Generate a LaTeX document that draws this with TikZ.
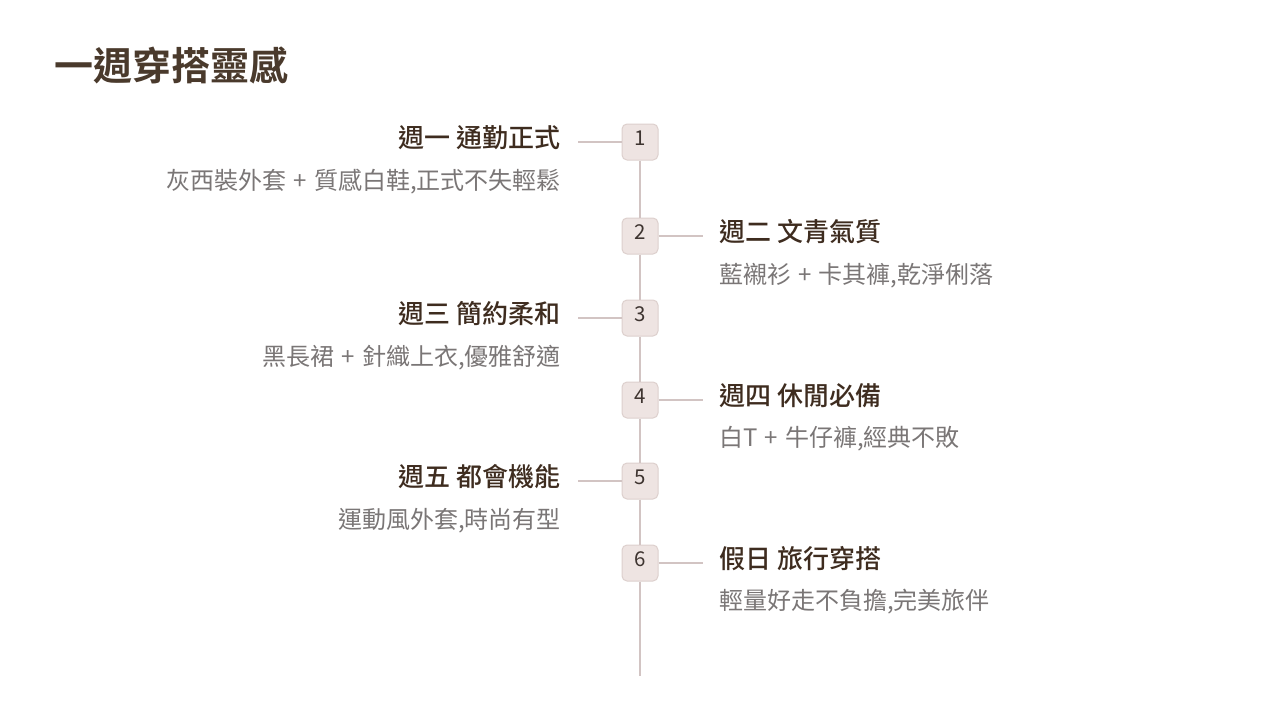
\documentclass[tikz,border=0pt]{standalone}
\usepackage{fontspec}
\setmainfont{Noto Sans CJK TC}
\newfontfamily\cjkb{Noto Sans CJK TC Bold}
\newfontfamily\cjkm{Noto Sans CJK TC Medium}
\definecolor{titlec}{HTML}{4A3A2C}
\definecolor{headc}{HTML}{3E2C1F}
\definecolor{descc}{HTML}{7A7676}
\definecolor{linec}{HTML}{D2C4C3}
\definecolor{boxfill}{HTML}{EEE4E2}
\definecolor{boxdraw}{HTML}{DDD0CD}
\definecolor{numc}{HTML}{3E3430}
\newcommand{\pl}{\hspace{0.3em}+\hspace{0.3em}}
\begin{document}
\begin{tikzpicture}[x=1pt,y=-1pt,
  stepbox/.style={draw=boxdraw,fill=boxfill,line width=1pt,rounded corners=5pt,minimum width=36pt,minimum height=36pt,inner sep=0pt},
  numtext/.style={text=numc,font=\fontsize{20.5}{24}\selectfont,inner sep=0pt},
  headtxt/.style={text=headc,font=\cjkm\fontsize{26}{30}\selectfont,inner sep=0pt},
  desctxt/.style={text=descc,font=\fontsize{24}{28}\selectfont,inner sep=0pt},
  spine/.style={draw=linec,line width=2pt},
  tick/.style={draw=linec,line width=2pt}]
\useasboundingbox[fill=white] (0,0) rectangle (1280,720);
\node[anchor=west,text=titlec,font=\cjkb\fontsize{39}{44}\selectfont,inner sep=0pt] (title) at (54,65) {一週穿搭靈感};
% boxes
\node[stepbox] (b1) at (640,142) {};
\node[stepbox] (b2) at (640,236) {};
\node[stepbox] (b3) at (640,318) {};
\node[stepbox] (b4) at (640,400) {};
\node[stepbox] (b5) at (640,481) {};
\node[stepbox] (b6) at (640,563) {};
\coordinate (end) at (640,676);
\draw[spine] (b1) -- (b2);
\draw[spine] (b2) -- (b3);
\draw[spine] (b3) -- (b4);
\draw[spine] (b4) -- (b5);
\draw[spine] (b5) -- (b6);
\draw[spine] (b6) -- (end);
\node[numtext] (n1) at (640,138) {1};
\node[numtext] (n2) at (640,232) {2};
\node[numtext] (n3) at (640,314) {3};
\node[numtext] (n4) at (640,396) {4};
\node[numtext] (n5) at (640,477) {5};
\node[numtext] (n6) at (640,559) {6};
% left items
\node[headtxt,anchor=east] (h1) at (561,138) {週一 通勤正式};
\node[desctxt,anchor=east] (d1) at (561,182) {灰西裝外套\pl 質感白鞋,正式不失輕鬆};
\node[headtxt,anchor=east] (h3) at (561,314) {週三 簡約柔和};
\node[desctxt,anchor=east] (d3) at (561,358) {黑長裙\pl 針織上衣,優雅舒適};
\node[headtxt,anchor=east] (h5) at (561,477) {週五 都會機能};
\node[desctxt,anchor=east] (d5) at (561,521) {運動風外套,時尚有型};
% right items
\node[headtxt,anchor=west] (h2) at (719,232) {週二 文青氣質};
\node[desctxt,anchor=west] (d2) at (719,276) {藍襯衫\pl 卡其褲,乾淨俐落};
\node[headtxt,anchor=west] (h4) at (719,396) {週四 休閒必備};
\node[desctxt,anchor=west] (d4) at (719,439) {白T\pl 牛仔褲,經典不敗};
\node[headtxt,anchor=west] (h6) at (719,559) {假日 旅行穿搭};
\node[desctxt,anchor=west] (d6) at (719,602) {輕量好走不負擔,完美旅伴};
% ticks
\coordinate (t1) at (578,142);
\coordinate (t3) at (578,318);
\coordinate (t5) at (578,481);
\coordinate (t2) at (703,236);
\coordinate (t4) at (703,400);
\coordinate (t6) at (703,563);
\draw[tick] (b1.west) -- (t1);
\draw[tick] (b3.west) -- (t3);
\draw[tick] (b5.west) -- (t5);
\draw[tick] (b2.east) -- (t2);
\draw[tick] (b4.east) -- (t4);
\draw[tick] (b6.east) -- (t6);
\end{tikzpicture}
\end{document}
